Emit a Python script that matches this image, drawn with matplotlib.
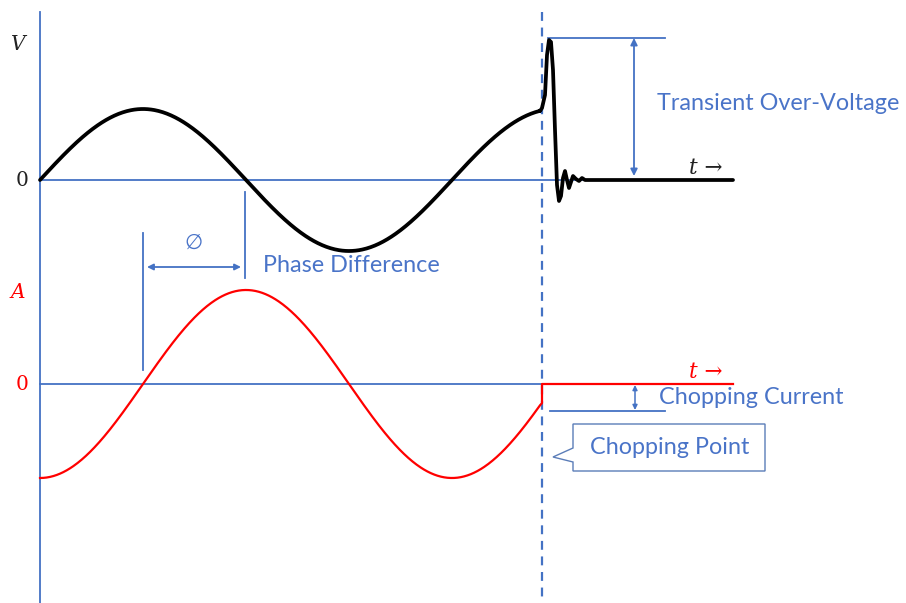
import numpy as np
import matplotlib
matplotlib.use("Agg")
import matplotlib.pyplot as plt
from matplotlib.patches import Polygon

# ---- data (diagram units: pixels of the reference canvas, y downward) ----
X0 = 40            # time origin
PX_PER_DEG = 412 / 360.0
V_ZERO_Y = 180     # voltage zero line
I_ZERO_Y = 384     # current zero line
V_AMP = 71
I_AMP = 94
CHOP_DEG = 437     # phase angle where current is chopped
PHASE_LAG = 90     # current lags voltage (deg)
END_X = 733

# transient over-voltage after chopping (x, y)
trans_x = [540, 542, 545, 547, 549, 551, 553, 555, 557, 559, 561, 563, 565, 567, 569, 571, 573, 576, 579, 582, 585, 733]
trans_y = [111, 108, 95, 55, 40, 42, 70, 130, 185, 201, 196, 178, 171, 180, 188, 182, 176, 179, 181, 178, 180, 180]

BLUE = "#4472C4"
TXT_BLUE = "#4A74C8"
FS = 16.8

fig = plt.figure(figsize=(9.06, 6.03), dpi=100)
ax = fig.add_axes([0, 0, 1, 1])
ax.set_xlim(0, 906)
ax.set_ylim(603, 0)
ax.axis("off")

deg = np.linspace(0, CHOP_DEG, 600)
xs = X0 + deg * PX_PER_DEG
v = V_ZERO_Y - V_AMP * np.sin(np.radians(deg))
i = I_ZERO_Y - I_AMP * np.sin(np.radians(deg - PHASE_LAG))

# axes lines
ax.plot([X0, X0], [12, 603], color=BLUE, lw=1.3, zorder=1)
ax.plot([X0, END_X], [V_ZERO_Y, V_ZERO_Y], color=BLUE, lw=1.3, zorder=1)
ax.plot([X0, 545], [I_ZERO_Y, I_ZERO_Y], color=BLUE, lw=1.3, zorder=1)
# dashed chop line
ax.plot([542, 542], [12, 603], color=BLUE, lw=1.6, ls=(0, (4, 3)), zorder=1)

# voltage
ax.plot(list(xs) + trans_x, list(v) + trans_y, color="black", lw=2.7,
        solid_joinstyle="round", solid_capstyle="round", zorder=3)

# current
ax.plot(list(xs) + [542, 542, END_X], list(i) + [i[-1] - 2, I_ZERO_Y, I_ZERO_Y],
        color="red", lw=1.6, zorder=3)

# axis labels
lab = dict(family="DejaVu Serif", fontsize=14.5, ha="center", va="center")
ax.text(18, 45, "V", style="italic", color="#222222", **lab)
ax.text(22, 181, "0", color="#222222", **lab)
ax.text(18, 293, "A", style="italic", color="red", **lab)
ax.text(22, 385, "0", color="red", **lab)
ax.text(689, 168, "t →", family="DejaVu Serif", style="italic", fontsize=15.5, color="#222222",
        ha="left", va="center")
ax.text(689, 372, "t →", family="DejaVu Serif", style="italic", fontsize=15.5, color="red",
        ha="left", va="center")

# transient over-voltage annotation
ax.plot([548, 665], [38, 38], color=BLUE, lw=1.3)
ax.annotate("", xy=(634, 38), xytext=(634, 176),
            arrowprops=dict(arrowstyle="<|-|>", color=BLUE, lw=1.3, mutation_scale=10,
                            shrinkA=0, shrinkB=0))
ax.text(657, 104, "Transient Over-Voltage", family="Lato", fontsize=FS, color=TXT_BLUE,
        ha="left", va="center")

# phase difference annotation
ax.plot([143, 143], [233, 370], color=BLUE, lw=1.3)
ax.plot([245, 245], [192, 278], color=BLUE, lw=1.3)
ax.annotate("", xy=(147, 267), xytext=(241, 267),
            arrowprops=dict(arrowstyle="<|-|>", color=BLUE, lw=1.3, mutation_scale=9,
                            shrinkA=0, shrinkB=0))
ax.text(193, 243, "∅", family="DejaVu Sans", fontsize=15, color=TXT_BLUE, ha="center", va="center")
ax.text(263, 266, "Phase Difference", family="Lato", fontsize=FS, color=TXT_BLUE,
        ha="left", va="center")

# chopping current annotation
ax.plot([550, 665], [411, 411], color=BLUE, lw=1.3)
ax.annotate("", xy=(635, 385), xytext=(635, 410),
            arrowprops=dict(arrowstyle="<|-|>", color=BLUE, lw=1.1, mutation_scale=7,
                            shrinkA=0, shrinkB=0))
ax.text(659, 398, "Chopping Current", family="Lato", fontsize=FS, color=TXT_BLUE,
        ha="left", va="center")

# chopping point callout
callout = Polygon([(573, 424), (765, 424), (765, 471), (573, 471), (573, 462),
                   (553, 457), (573, 448)], closed=True, facecolor="white",
                  edgecolor="#5B7DB8", lw=1.0, zorder=4)
ax.add_patch(callout)
ax.text(670, 447, "Chopping Point", family="Lato", fontsize=FS, color=TXT_BLUE,
        ha="center", va="center", zorder=5)

fig.savefig("out.png", dpi=100)
